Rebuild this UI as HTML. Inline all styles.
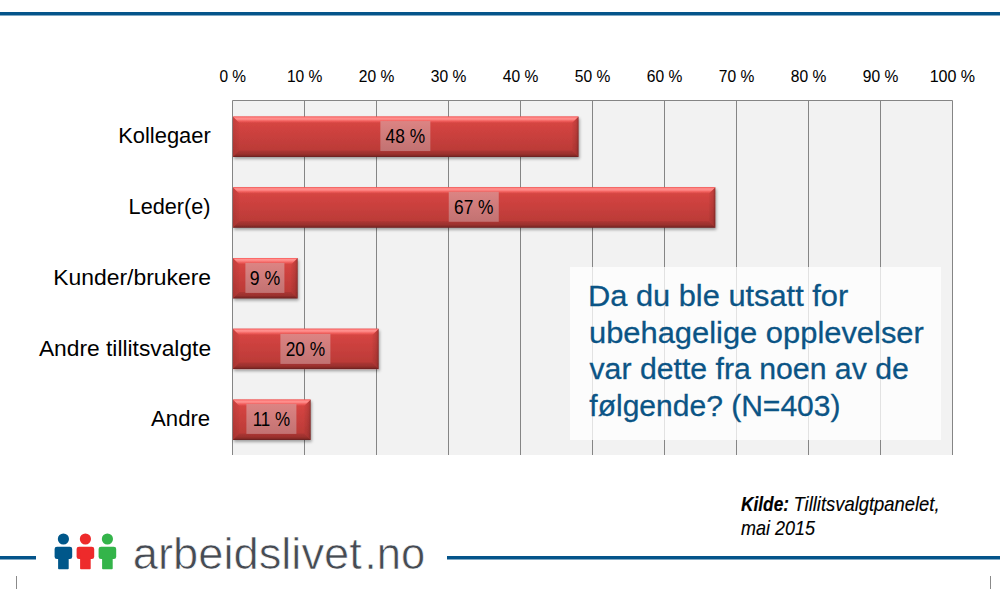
<!DOCTYPE html>
<html><head><meta charset="utf-8">
<style>
html,body{margin:0;padding:0;background:#fff;width:1000px;height:589px;overflow:hidden}
svg{display:block;font-family:"Liberation Sans",sans-serif}
</style></head>
<body>
<svg width="1000" height="589" viewBox="0 0 1000 589">
<defs>
  <linearGradient id="face" x1="0" y1="0" x2="0" y2="1">
    <stop offset="0" stop-color="#db4744"/>
    <stop offset="1" stop-color="#b53835"/>
  </linearGradient>
  <linearGradient id="topb" x1="0" y1="0" x2="0" y2="1">
    <stop offset="0" stop-color="#ff5a5a" stop-opacity="0.85"/>
    <stop offset="0.22" stop-color="#ff9290" stop-opacity="1"/>
    <stop offset="0.45" stop-color="#ff8886" stop-opacity="0.95"/>
    <stop offset="0.72" stop-color="#ff6c6a" stop-opacity="0.6"/>
    <stop offset="1" stop-color="#f05a58" stop-opacity="0.0"/>
  </linearGradient>
  <linearGradient id="botb" x1="0" y1="0" x2="0" y2="1">
    <stop offset="0" stop-color="#000" stop-opacity="0.08"/>
    <stop offset="0.55" stop-color="#000" stop-opacity="0.16"/>
    <stop offset="0.8" stop-color="#000" stop-opacity="0.28"/>
    <stop offset="1" stop-color="#000" stop-opacity="0.45"/>
  </linearGradient>
  <linearGradient id="leftb" x1="0" y1="0" x2="1" y2="0">
    <stop offset="0" stop-color="#000" stop-opacity="0.09"/>
    <stop offset="1" stop-color="#000" stop-opacity="0.02"/>
  </linearGradient>
  <linearGradient id="rightb" x1="0" y1="0" x2="1" y2="0">
    <stop offset="0" stop-color="#000" stop-opacity="0.02"/>
    <stop offset="0.6" stop-color="#000" stop-opacity="0.1"/>
    <stop offset="0.82" stop-color="#000" stop-opacity="0.18"/>
    <stop offset="1" stop-color="#000" stop-opacity="0.42"/>
  </linearGradient>
  <linearGradient id="lbl" x1="0" y1="0" x2="0" y2="1">
    <stop offset="0" stop-color="#dc8483"/>
    <stop offset="1" stop-color="#c27272"/>
  </linearGradient>
  <filter id="sh" x="-5%" y="-20%" width="115%" height="160%">
    <feGaussianBlur in="SourceAlpha" stdDeviation="1.6"/>
    <feOffset dx="0.6" dy="2.2" result="b"/>
    <feComponentTransfer><feFuncA type="linear" slope="0.35"/></feComponentTransfer>
    <feMerge><feMergeNode/><feMergeNode in="SourceGraphic"/></feMerge>
  </filter>
</defs>

<!-- top rule -->
<rect x="0" y="12" width="1000" height="3.5" fill="#04548a"/>

<!-- plot area -->
<rect x="232.5" y="100.5" width="720" height="354.5" fill="#f2f2f2"/>
<g stroke="#858585" stroke-width="1" fill="none">
  <path d="M232.5 455V100.5H952.5V455"/>
  <path d="M304.5 100.5V455M376.5 100.5V455M448.5 100.5V455M520.5 100.5V455M592.5 100.5V455M664.5 100.5V455M736.5 100.5V455M808.5 100.5V455M880.5 100.5V455"/>
</g>

<!-- axis labels -->
<g font-size="17.3" fill="#000" text-anchor="middle" stroke="#000" stroke-width="0.06">
  <text x="232.7" y="82" textLength="26.6" lengthAdjust="spacingAndGlyphs">0 %</text>
  <text x="304.7" y="82" textLength="35.5" lengthAdjust="spacingAndGlyphs">10 %</text>
  <text x="376.5" y="82" textLength="35.5" lengthAdjust="spacingAndGlyphs">20 %</text>
  <text x="448.5" y="82" textLength="35.5" lengthAdjust="spacingAndGlyphs">30 %</text>
  <text x="520.5" y="82" textLength="35.5" lengthAdjust="spacingAndGlyphs">40 %</text>
  <text x="592.5" y="82" textLength="35.5" lengthAdjust="spacingAndGlyphs">50 %</text>
  <text x="664.5" y="82" textLength="35.5" lengthAdjust="spacingAndGlyphs">60 %</text>
  <text x="736.5" y="82" textLength="35.5" lengthAdjust="spacingAndGlyphs">70 %</text>
  <text x="808.5" y="82" textLength="35.5" lengthAdjust="spacingAndGlyphs">80 %</text>
  <text x="880.5" y="82" textLength="35.5" lengthAdjust="spacingAndGlyphs">90 %</text>
  <text x="952.4" y="82" textLength="45.5" lengthAdjust="spacingAndGlyphs">100 %</text>
</g>

<!-- category labels -->
<g font-size="21.5" fill="#000" text-anchor="end">
  <text x="210.8" y="142.7" textLength="92.6" lengthAdjust="spacingAndGlyphs">Kollegaer</text>
  <text x="210.6" y="213.6" textLength="82" lengthAdjust="spacingAndGlyphs">Leder(e)</text>
  <text x="211.1" y="284.6" textLength="157.8" lengthAdjust="spacingAndGlyphs">Kunder/brukere</text>
  <text x="211.1" y="356" textLength="172.2" lengthAdjust="spacingAndGlyphs">Andre tillitsvalgte</text>
  <text x="210.2" y="425.8" textLength="59.1" lengthAdjust="spacingAndGlyphs">Andre</text>
</g>

<!-- bars -->
<g id="bars" filter="url(#sh)">
<g><rect x="232.9" y="116.6" width="345.60" height="40.4" fill="url(#face)"/><polygon points="232.9,116.6 239.4,123.1 239.4,150.5 232.9,157.0" fill="url(#leftb)"/><polygon points="578.5,116.6 572.0,123.1 572.0,150.5 578.5,157.0" fill="url(#rightb)"/><polygon points="232.9,116.6 578.5,116.6 572.0,123.1 239.4,123.1" fill="url(#topb)"/><polygon points="232.9,157.0 578.5,157.0 572.0,150.5 239.4,150.5" fill="url(#botb)"/></g>
<g><rect x="232.9" y="187.3" width="482.40" height="40.4" fill="url(#face)"/><polygon points="232.9,187.3 239.4,193.8 239.4,221.20000000000002 232.9,227.70000000000002" fill="url(#leftb)"/><polygon points="715.3,187.3 708.8,193.8 708.8,221.20000000000002 715.3,227.70000000000002" fill="url(#rightb)"/><polygon points="232.9,187.3 715.3,187.3 708.8,193.8 239.4,193.8" fill="url(#topb)"/><polygon points="232.9,227.70000000000002 715.3,227.70000000000002 708.8,221.20000000000002 239.4,221.20000000000002" fill="url(#botb)"/></g>
<g><rect x="232.9" y="258.0" width="64.70" height="40.4" fill="url(#face)"/><polygon points="232.9,258.0 239.4,264.5 239.4,291.9 232.9,298.4" fill="url(#leftb)"/><polygon points="297.6,258.0 291.1,264.5 291.1,291.9 297.6,298.4" fill="url(#rightb)"/><polygon points="232.9,258.0 297.6,258.0 291.1,264.5 239.4,264.5" fill="url(#topb)"/><polygon points="232.9,298.4 297.6,298.4 291.1,291.9 239.4,291.9" fill="url(#botb)"/></g>
<g><rect x="232.9" y="328.7" width="145.70" height="40.4" fill="url(#face)"/><polygon points="232.9,328.7 239.4,335.2 239.4,362.59999999999997 232.9,369.09999999999997" fill="url(#leftb)"/><polygon points="378.6,328.7 372.1,335.2 372.1,362.59999999999997 378.6,369.09999999999997" fill="url(#rightb)"/><polygon points="232.9,328.7 378.6,328.7 372.1,335.2 239.4,335.2" fill="url(#topb)"/><polygon points="232.9,369.09999999999997 378.6,369.09999999999997 372.1,362.59999999999997 239.4,362.59999999999997" fill="url(#botb)"/></g>
<g><rect x="232.9" y="399.6" width="77.70" height="40.4" fill="url(#face)"/><polygon points="232.9,399.6 239.4,406.1 239.4,433.5 232.9,440.0" fill="url(#leftb)"/><polygon points="310.6,399.6 304.1,406.1 304.1,433.5 310.6,440.0" fill="url(#rightb)"/><polygon points="232.9,399.6 310.6,399.6 304.1,406.1 239.4,406.1" fill="url(#topb)"/><polygon points="232.9,440.0 310.6,440.0 304.1,433.5 239.4,433.5" fill="url(#botb)"/></g>
</g>
<g id="labels">
<rect x="380.35" y="121.05" width="50" height="30" fill="url(#lbl)"/>
<text x="405.35" y="143.15" text-anchor="middle" font-size="19.8" fill="#000" textLength="39.5" lengthAdjust="spacingAndGlyphs">48 %</text>
<rect x="448.75" y="191.75" width="50" height="30" fill="url(#lbl)"/>
<text x="473.75" y="213.85" text-anchor="middle" font-size="19.8" fill="#000" textLength="39.5" lengthAdjust="spacingAndGlyphs">67 %</text>
<rect x="245.40" y="262.90" width="39" height="30" fill="url(#lbl)"/>
<text x="264.90" y="285.00" text-anchor="middle" font-size="19.8" fill="#000" textLength="30.5" lengthAdjust="spacingAndGlyphs">9 %</text>
<rect x="280.40" y="333.90" width="50" height="30" fill="url(#lbl)"/>
<text x="305.40" y="356.00" text-anchor="middle" font-size="19.8" fill="#000" textLength="39.5" lengthAdjust="spacingAndGlyphs">20 %</text>
<rect x="246.40" y="403.90" width="50" height="30" fill="url(#lbl)"/>
<text x="271.40" y="426.00" text-anchor="middle" font-size="19.8" fill="#000" textLength="37.5" lengthAdjust="spacingAndGlyphs">11 %</text>
</g>

<!-- title box -->
<rect x="570" y="267" width="371" height="173" fill="#fff" fill-opacity="0.76"/>
<g font-size="30" fill="#0b5485" stroke="#0b5485" stroke-width="0.3">
  <text x="588" y="305.6" textLength="260.2" lengthAdjust="spacingAndGlyphs">Da du ble utsatt for</text>
  <text x="589" y="342.7" textLength="334.8" lengthAdjust="spacingAndGlyphs">ubehagelige opplevelser</text>
  <text x="589.5" y="379.4" textLength="319.3" lengthAdjust="spacingAndGlyphs">var dette fra noen av de</text>
  <text x="589.3" y="416.1" textLength="251.2" lengthAdjust="spacingAndGlyphs">følgende? (N=403)</text>
</g>

<!-- source -->
<g font-size="21" fill="#000" stroke="#000" stroke-width="0.15">
  <text x="741" y="510.8"><tspan font-weight="bold" font-style="italic" textLength="48" lengthAdjust="spacingAndGlyphs">Kilde:</tspan></text>
  <text x="793.5" y="510.8" font-style="italic" textLength="146" lengthAdjust="spacingAndGlyphs">Tillitsvalgtpanelet,</text>
  <text x="741" y="534.5" font-style="italic" textLength="74" lengthAdjust="spacingAndGlyphs">mai 2015</text>
</g>

<!-- bottom rules -->
<rect x="0" y="556" width="36" height="3.5" fill="#04548a"/>
<rect x="447" y="556" width="553" height="3.5" fill="#04548a"/>
<rect x="16" y="576" width="1" height="13" fill="#8a8a8a"/>
<rect x="990" y="576" width="1" height="13" fill="#8a8a8a"/>

<!-- logo figures -->
<g id="figs"><g fill="#00578a"><circle cx="63.4" cy="539.0" r="5.6"/><rect x="54.6" y="546.7" width="17.6" height="12.4" rx="2.4"/><rect x="58.1" y="552" width="10.6" height="17.2" rx="0.8"/></g>
<g fill="#ee2a2b"><circle cx="85.4" cy="539.0" r="5.6"/><rect x="76.6" y="546.7" width="17.6" height="12.4" rx="2.4"/><rect x="80.1" y="552" width="10.6" height="17.2" rx="0.8"/></g>
<g fill="#34b44a"><circle cx="107.4" cy="539.0" r="5.6"/><rect x="98.6" y="546.7" width="17.6" height="12.4" rx="2.4"/><rect x="102.1" y="552" width="10.6" height="17.2" rx="0.8"/></g></g>
<g font-size="45" fill="#464b53" stroke="#fff" stroke-width="0.65"><text x="132.8" y="569" textLength="229" lengthAdjust="spacingAndGlyphs">arbeidslivet</text><text x="364.6" y="569" textLength="60.5" lengthAdjust="spacingAndGlyphs">.no</text></g>
</svg>
</body></html>
